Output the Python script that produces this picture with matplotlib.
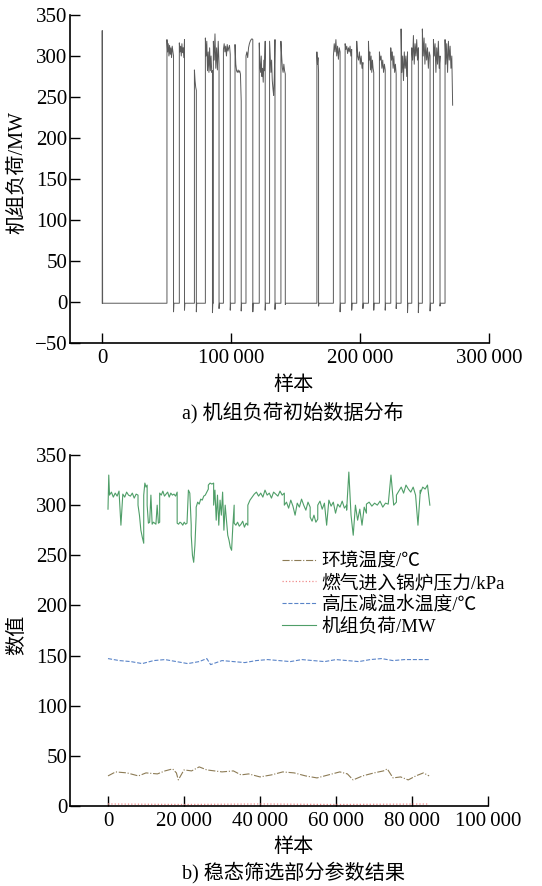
import numpy as np
import matplotlib.pyplot as plt
from matplotlib.ticker import FuncFormatter

plt.rcParams['font.family'] = ['Liberation Serif', 'Noto Sans CJK SC', 'DejaVu Sans']

# ---- a) raw unit load data: on-periods (start, end, load values read along the block, dip at shutdown)
off_level = -1.5
block_start = [0, 50200, 59800, 71500, 80000, 86200, 94000, 103000, 111500, 121800, 129800, 138600,
               166500, 179300, 188400, 197400, 206500, 215000, 223800, 231800, 240100, 248300,
               256900, 265900]
block_end = [300, 55300, 63800, 73000, 85500, 90600, 99300, 107800, 116800, 126400, 134000, 142000,
             167800, 184500, 193500, 202200, 210600, 219500, 228000, 236800, 245200, 254300,
             262000, 271800]
block_vals = [
    [331],
    [320, 305, 315, 300, 313, 302, 310, 298, 312, 306, 300],
    [316, 305, 312, 300, 315, 304, 310, 298, 320],
    [283, 270, 262, 258],
    [322, 300, 318, 282, 305, 280, 310, 282, 300, 280, 282],
    [318, 295, 327, 285, 310, 283, 318, 290],
    [308, 315, 305, 312, 300, 314, 306, 310, 313, 302],
    [314, 290, 282, 280, 283, 280, 282, 278, 245],
    [300, 305, 298, 310, 315, 318, 320, 321, 320],
    [316, 290, 280, 300, 275, 285, 268, 295, 282, 318],
    [318, 300, 280, 295, 270, 260, 252, 275, 320],
    [318, 300, 285, 280, 290, 282, 278],
    [305, 290, 298, 280],
    [300, 315, 305, 320, 300, 312, 296, 310, 305],
    [315, 308, 312, 303, 310, 305, 312, 300, 308],
    [318, 300, 295, 305, 290, 300, 285, 292],
    [318, 295, 305, 283, 300, 280, 295, 285, 280],
    [305, 295, 300, 285, 295, 280, 290, 283],
    [310, 295, 305, 285, 300, 280, 290, 278],
    [333, 280, 300, 270, 305, 285, 300, 275, 305],
    [310, 295, 325, 290, 315, 300, 320, 295, 310],
    [333, 300, 322, 290, 315, 295, 310, 285, 305, 300],
    [320, 300, 315, 280, 310, 290, 318, 285, 300],
    [320, 290, 315, 280, 318, 295, 312, 285, 300, 240],
]
block_dip = [-1.5, -12, -10, -12, -13, -8, -10, -11, -12, -10, -9, -3,
             -5, -12, -10, -8, -10, -10, -8, -13, -13, -11, -5, None]

# ---- b) steady-state filtered results
green_start = [0, 400, 7900, 9400, 10300, 13600, 18200, 21900, 23200, 26400, 27800, 33200,
               36800, 46400, 53200, 55200, 62800, 68000, 75900, 82200]
green_end = [400, 7900, 9400, 10300, 13600, 18200, 21900, 23200, 26400, 27800, 33200, 36800,
             46400, 53200, 55200, 62800, 68000, 75900, 82200, 84700]
green_vals = [
    [296, 330, 312],
    [310, 313, 308, 312, 309, 314, 280, 311, 308, 313, 310, 309, 312, 307, 311, 310],
    [300, 290, 275, 268, 262],
    [310, 322, 318, 320],
    [300, 282, 283, 310, 281, 283, 282, 281, 300, 282, 283],
    [312, 310, 314, 309, 311, 313, 308, 312, 310, 311, 309, 313],
    [282, 281, 283, 282, 280, 283, 281, 282, 315, 312, 280],
    [270, 250, 243, 260, 290],
    [298, 303, 301, 306, 305, 309, 310, 313, 316],
    [320, 322, 321, 322],
    [300, 315, 285, 310, 280, 305, 290, 313, 275, 300, 285, 270, 265, 258, 255, 280, 300],
    [282, 280, 283, 279, 281, 284, 278, 282, 280],
    [300, 305, 308, 311, 313, 309, 312, 308, 315, 310, 312, 307, 313, 311, 309, 314, 310, 312],
    [300, 303, 297, 305, 299, 290, 302, 298, 306, 300, 295, 303, 298],
    [288, 284, 290, 283, 286],
    [300, 304, 296, 302, 280, 305, 299, 303, 292, 301, 298, 304, 297, 300],
    [295, 333, 290, 270, 300, 285, 296, 280, 298, 292],
    [301, 303, 299, 302, 300, 304, 298, 302, 301, 330, 300, 303],
    [310, 314, 318, 312, 320, 316, 313, 318, 310, 280, 315],
    [312, 318, 316, 320, 300],
]

blue_x = [0, 3000, 6000, 9000, 12000, 15000, 18000, 21000, 24000, 26000, 27000, 30000, 33000,
          36000, 39000, 42000, 45000, 48000, 51000, 54000, 57000, 60000, 63000, 66000, 69000,
          72000, 75000, 78000, 81000, 84500]
blue_y = [147, 145, 144, 142, 145, 146, 144, 142, 144, 147, 141, 145, 144, 143, 145, 146, 145,
          144, 146, 145, 144, 146, 145, 144, 146, 147, 145, 146, 146, 146]

brown_x = [0, 2000, 5000, 8000, 10000, 13000, 15000, 17000, 18000, 18500, 20000, 22000, 24000,
           26000, 28000, 30000, 33000, 35000, 37000, 40000, 43000, 46000, 49000, 52000, 55000,
           58000, 61000, 63000, 64500, 67000, 70000, 72500, 73500, 75000, 77000, 79000, 81000,
           83000, 84500]
brown_y = [30, 34, 33, 30, 33, 32, 35, 37, 33, 26, 36, 35, 39, 36, 35, 34, 35, 31, 32, 29, 31, 34,
           33, 30, 28, 31, 34, 32, 26, 30, 33, 35, 37, 28, 29, 26, 30, 33, 30]

pink_x = [0, 20000, 40000, 60000, 84500]
pink_y = [2, 1.5, 2, 1.5, 2]

labels_b = ['环境温度/℃', '燃气进入锅炉压力/kPa', '高压减温水温度/℃', '机组负荷/MW']


def sep_fmt(v, p):
    return f'{int(round(v)):,}'.replace(',', '\u2009')


def style_axes(ax):
    for s in ['top', 'right']:
        ax.spines[s].set_visible(False)
    for s in ['left', 'bottom']:
        ax.spines[s].set_linewidth(1.2)
    ax.tick_params(direction='in', length=7, width=1, labelsize=15)
    ax.tick_params(axis='y', pad=2)
    ax.tick_params(axis='x', pad=4)
    ax.xaxis.set_major_formatter(FuncFormatter(sep_fmt))


fig = plt.figure(figsize=(5.42, 8.86), dpi=100)

# top panel
ax1 = fig.add_axes([70 / 542, 1 - 343 / 886, (489 - 70) / 542, (343 - 15) / 886])
tx, ty = [], []
for s, e, vals, dip in zip(block_start, block_end, block_vals, block_dip):
    tx.append(s)
    ty.append(off_level)
    tx.extend(np.linspace(s, e, len(vals)))
    ty.extend(vals)
    if dip is not None:
        tx.extend([e, e + 300])
        ty.extend([dip, off_level])
ax1.plot(tx, ty, color='#5a5a5a', lw=0.7)
ax1.set_xlim(-25000, 300000)
ax1.set_ylim(-50, 350)
ax1.set_xticks([0, 100000, 200000, 300000])
ax1.set_yticks(np.arange(-50, 351, 50))
style_axes(ax1)

fig.text(18 / 542, 1 - 172 / 886, '机组负荷/MW', rotation=90, ha='center', va='center', fontsize=14.5)
fig.text(293 / 542, 1 - 385 / 886, '样本', ha='center', va='center', fontsize=14.5)
fig.text(293 / 542, 1 - 413 / 886, 'a) 机组负荷初始数据分布', ha='center', va='center', fontsize=14.5)

# bottom panel
ax2 = fig.add_axes([70 / 542, 1 - 806 / 886, (488 - 70) / 542, (806 - 455) / 886])
gx, gy = [], []
for s, e, vals in zip(green_start, green_end, green_vals):
    gx.extend(np.linspace(s, e, len(vals)))
    gy.extend(vals)
ax2.plot(brown_x, brown_y, color='#8c7b55', lw=0.8, ls='-.', label=labels_b[0])
ax2.plot(pink_x, pink_y, color='#f08a8a', lw=0.9, ls=':', label=labels_b[1])
ax2.plot(blue_x, blue_y, color='#5a84c8', lw=0.8, ls='--', label=labels_b[2])
ax2.plot(gx, gy, color='#4f9e68', lw=0.8, label=labels_b[3])
ax2.set_xlim(-10000, 100000)
ax2.set_ylim(0, 350)
ax2.set_xticks(np.arange(0, 100001, 20000))
ax2.set_yticks(np.arange(0, 351, 50))
style_axes(ax2)
ax2.legend(loc='upper left', bbox_to_anchor=(0.485, 0.748), frameon=False, fontsize=13.5,
           handlelength=1.8, handletextpad=0.3, labelspacing=0.2, borderpad=0)

fig.text(18 / 542, 1 - 635 / 886, '数值', rotation=90, ha='center', va='center', fontsize=14.5)
fig.text(293 / 542, 1 - 847 / 886, '样本', ha='center', va='center', fontsize=14.5)
fig.text(293 / 542, 1 - 873 / 886, 'b) 稳态筛选部分参数结果', ha='center', va='center', fontsize=14.5)

fig.savefig('out.png', dpi=100)
